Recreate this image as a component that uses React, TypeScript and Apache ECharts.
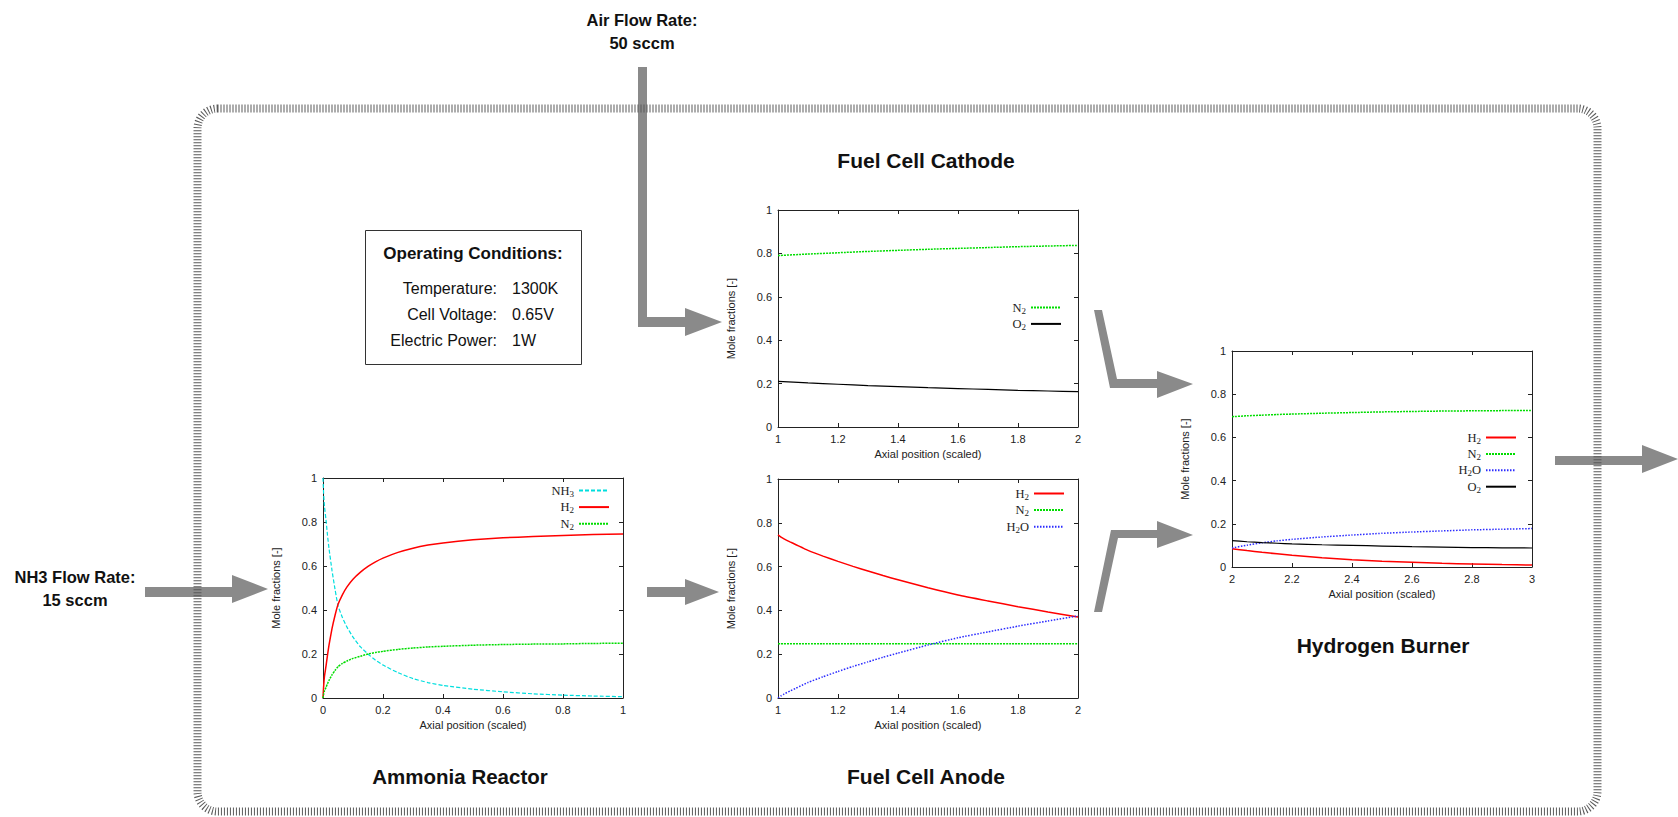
import React, { useEffect, useRef } from 'react';
import * as echarts from 'echarts';

// ---------- Data ----------
// Ammonia reactor
const reactorX = [0, 0.002, 0.005, 0.01, 0.015, 0.02, 0.03, 0.04, 0.05, 0.065, 0.08, 0.1, 0.125, 0.15, 0.175, 0.2, 0.25, 0.3, 0.35, 0.4, 0.5, 0.6, 0.7, 0.8, 0.9, 1.0];
const reactorNH3 = [1.0, 0.93, 0.87, 0.81, 0.74, 0.68, 0.58, 0.495, 0.42, 0.365, 0.322, 0.277, 0.232, 0.2, 0.172, 0.15, 0.115, 0.088, 0.07, 0.057, 0.04, 0.028, 0.019, 0.013, 0.009, 0.006];
const reactorH2 = [0, 0.05, 0.1, 0.145, 0.195, 0.24, 0.315, 0.375, 0.425, 0.47, 0.505, 0.54, 0.572, 0.598, 0.619, 0.636, 0.662, 0.681, 0.695, 0.705, 0.719, 0.728, 0.734, 0.739, 0.743, 0.746];
const reactorN2 = [0, 0.017, 0.033, 0.048, 0.065, 0.08, 0.105, 0.125, 0.142, 0.157, 0.168, 0.18, 0.19, 0.2, 0.207, 0.212, 0.221, 0.227, 0.232, 0.235, 0.24, 0.243, 0.245, 0.246, 0.248, 0.249];

// Fuel cell anode
const anodeX = [1, 1.01, 1.02, 1.04, 1.06, 1.08, 1.1, 1.15, 1.2, 1.25, 1.3, 1.35, 1.4, 1.5, 1.6, 1.7, 1.8, 1.9, 2];
const anodeH2 = [0.745, 0.735, 0.727, 0.713, 0.7, 0.687, 0.674, 0.648, 0.624, 0.601, 0.58, 0.559, 0.54, 0.503, 0.47, 0.443, 0.417, 0.393, 0.37];
const anodeN2 = [0.248, 0.248, 0.248, 0.248, 0.248, 0.248, 0.248, 0.248, 0.248, 0.248, 0.248, 0.248, 0.248, 0.248, 0.248, 0.248, 0.248, 0.248, 0.248];
const anodeH2O = [0, 0.01, 0.018, 0.032, 0.045, 0.058, 0.071, 0.097, 0.121, 0.144, 0.165, 0.186, 0.205, 0.242, 0.275, 0.302, 0.328, 0.352, 0.375];

// Fuel cell cathode
const cathodeX = [1, 1.1, 1.2, 1.3, 1.4, 1.5, 1.6, 1.7, 1.8, 1.9, 2];
const cathodeN2 = [0.79, 0.797, 0.803, 0.809, 0.814, 0.819, 0.823, 0.827, 0.831, 0.834, 0.837];
const cathodeO2 = [0.21, 0.203, 0.197, 0.191, 0.186, 0.181, 0.177, 0.173, 0.169, 0.166, 0.163];

// Hydrogen burner
const burnerX = [2, 2.05, 2.1, 2.15, 2.2, 2.3, 2.4, 2.5, 2.6, 2.7, 2.8, 2.9, 3];
const burnerH2 = [0.085, 0.076, 0.068, 0.061, 0.054, 0.043, 0.034, 0.027, 0.022, 0.017, 0.014, 0.011, 0.009];
const burnerN2 = [0.696, 0.7, 0.703, 0.706, 0.708, 0.712, 0.715, 0.718, 0.72, 0.722, 0.723, 0.724, 0.725];
const burnerH2O = [0.088, 0.101, 0.112, 0.121, 0.128, 0.139, 0.148, 0.156, 0.162, 0.167, 0.172, 0.175, 0.178];
const burnerO2 = [0.122, 0.117, 0.113, 0.11, 0.107, 0.103, 0.1, 0.097, 0.094, 0.092, 0.09, 0.089, 0.088];

// Names / labels
const NAME_NH3 = 'NH3';
const NAME_H2 = 'H2';
const NAME_N2 = 'N2';
const NAME_H2O = 'H2O';
const NAME_O2 = 'O2';
const X_NAME = 'Axial position (scaled)';
const Y_NAME = 'Mole fractions [-]';
const conditionLabels = ['Temperature:', 'Cell Voltage:', 'Electric Power:'];
const conditionValues = ['1300K', '0.65V', '1W'];

// ---------- Styles ----------
const SANS = "'Liberation Sans', Arial, Helvetica, sans-serif";
const SERIF = "'Liberation Serif', 'DejaVu Serif', 'Times New Roman', serif";
const AXIS_COLOR = '#222';
const ARROW = '#8a8a8a';

const LINE_STYLES: Record<string, any> = {
  [NAME_NH3]: { color: '#00dede', type: [4, 2], width: 1.2 },
  [NAME_H2]: { color: '#ff0000', type: 'solid', width: 1.5 },
  [NAME_N2]: { color: '#00dd00', type: [2, 1], width: 1.5 },
  [NAME_H2O]: { color: '#2b2bff', type: [1.5, 1.5], width: 1.5 },
  [NAME_O2]: { color: '#000000', type: 'solid', width: 1.2 },
};

const GRIDS = [
  { left: 323, top: 478, width: 300, height: 220, xMin: 0, xMax: 1 }, // reactor
  { left: 778, top: 479, width: 300, height: 219, xMin: 1, xMax: 2 }, // anode
  { left: 778, top: 210, width: 300, height: 217, xMin: 1, xMax: 2 }, // cathode
  { left: 1232, top: 351, width: 300, height: 216, xMin: 2, xMax: 3 }, // burner
];

function makeSeries(name: string, xs: number[], ys: number[], g: number) {
  const ls = LINE_STYLES[name];
  return {
    type: 'line',
    name,
    xAxisIndex: 2 * g,
    yAxisIndex: 2 * g,
    data: xs.map((x, i) => [x, ys[i]]),
    symbol: 'none',
    smooth: 0.15,
    lineStyle: { color: ls.color, type: ls.type, width: ls.width },
    itemStyle: { color: ls.color },
    emphasis: { disabled: true },
    silent: true,
  };
}

function buildOption() {
  const xAxis: any[] = [];
  const yAxis: any[] = [];
  const line = { show: true, onZero: false, lineStyle: { color: AXIS_COLOR, width: 1 } };
  const tick = { show: true, inside: true, length: 4, lineStyle: { color: AXIS_COLOR, width: 1 } };
  GRIDS.forEach((g, i) => {
    xAxis.push({
      gridIndex: i, type: 'value', position: 'bottom', min: g.xMin, max: g.xMax, interval: 0.2,
      axisLine: line, axisTick: tick, splitLine: { show: false },
      axisLabel: { fontSize: 11, color: AXIS_COLOR, margin: 6, fontFamily: SANS },
      name: X_NAME, nameLocation: 'middle', nameGap: 21,
      nameTextStyle: { fontSize: 11, color: AXIS_COLOR, fontFamily: SANS },
    });
    xAxis.push({
      gridIndex: i, type: 'value', position: 'top', min: g.xMin, max: g.xMax, interval: 0.2,
      axisLine: line, axisTick: tick, splitLine: { show: false }, axisLabel: { show: false },
    });
    yAxis.push({
      gridIndex: i, type: 'value', position: 'left', min: 0, max: 1, interval: 0.2,
      axisLine: line, axisTick: tick, splitLine: { show: false },
      axisLabel: { fontSize: 11, color: AXIS_COLOR, margin: 6, fontFamily: SANS },
      name: Y_NAME, nameLocation: 'middle', nameGap: 42, nameRotate: 90,
      nameTextStyle: { fontSize: 11, color: AXIS_COLOR, fontFamily: SANS },
    });
    yAxis.push({
      gridIndex: i, type: 'value', position: 'right', min: 0, max: 1, interval: 0.2,
      axisLine: line, axisTick: tick, splitLine: { show: false }, axisLabel: { show: false },
    });
  });

  const series = [
    makeSeries(NAME_NH3, reactorX, reactorNH3, 0),
    makeSeries(NAME_H2, reactorX, reactorH2, 0),
    makeSeries(NAME_N2, reactorX, reactorN2, 0),
    makeSeries(NAME_H2, anodeX, anodeH2, 1),
    makeSeries(NAME_N2, anodeX, anodeN2, 1),
    makeSeries(NAME_H2O, anodeX, anodeH2O, 1),
    makeSeries(NAME_N2, cathodeX, cathodeN2, 2),
    makeSeries(NAME_O2, cathodeX, cathodeO2, 2),
    makeSeries(NAME_H2, burnerX, burnerH2, 3),
    makeSeries(NAME_N2, burnerX, burnerN2, 3),
    makeSeries(NAME_H2O, burnerX, burnerH2O, 3),
    makeSeries(NAME_O2, burnerX, burnerO2, 3),
  ];

  const legendBase = {
    orient: 'vertical', align: 'right', itemWidth: 30, itemHeight: 10, padding: 0,
    selectedMode: false,
    itemStyle: { opacity: 0, borderWidth: 0 },
    formatter: (name: string) => name.replace(/(\d)/g, '{s|$1}'),
    textStyle: {
      fontFamily: SERIF, fontSize: 12.5, color: AXIS_COLOR,
      rich: { s: { fontFamily: SERIF, fontSize: 9, color: AXIS_COLOR, padding: [6, 0, 0, 0] } },
    },
  };
  const legend = [
    { ...legendBase, data: [NAME_NH3, NAME_H2, NAME_N2], right: 1068, top: 484, itemGap: 2.6 },
    { ...legendBase, data: [NAME_H2, NAME_N2, NAME_H2O], right: 613, top: 487, itemGap: 2.6 },
    { ...legendBase, data: [NAME_N2, NAME_O2], right: 616, top: 301, itemGap: 2.4 },
    { ...legendBase, data: [NAME_H2, NAME_N2, NAME_H2O, NAME_O2], right: 161, top: 431, itemGap: 2.4 },
  ];

  const poly = (points: number[][]) => ({
    type: 'polygon', z: 1, silent: true,
    shape: { points }, style: { fill: ARROW, stroke: null },
  });
  const txt = (text: string, x: number, y: number, size: number, bold: boolean, align = 'center') => ({
    type: 'text', z: 5, silent: true,
    style: {
      text, x, y, fill: '#111',
      fontSize: size, fontWeight: bold ? 'bold' : 'normal', fontFamily: SANS,
      textAlign: align, textVerticalAlign: 'middle', align, verticalAlign: 'middle',
    },
  });

  const graphic = [
    // arrows
    poly([[145, 587], [232, 587], [232, 575], [268, 589], [232, 603], [232, 597], [145, 597]]),
    poly([[647, 587], [685, 587], [685, 579], [719, 592], [685, 605], [685, 597], [647, 597]]),
    poly([[638, 67], [647, 67], [647, 317], [685, 317], [685, 308], [722, 322], [685, 336], [685, 327], [638, 327]]),
    poly([[1094, 310], [1102, 310], [1117, 379], [1157, 379], [1157, 371], [1193, 384], [1157, 398], [1157, 388], [1110, 388]]),
    poly([[1094, 612], [1111, 530], [1157, 530], [1157, 521], [1193, 535], [1157, 548], [1157, 538], [1118, 538], [1102, 612]]),
    poly([[1555, 456], [1642, 456], [1642, 445], [1678, 459], [1642, 473], [1642, 465], [1555, 465]]),
    // system border
    {
      type: 'rect', z: 3, silent: true,
      shape: { x: 197.5, y: 108.5, width: 1400, height: 703, r: 20 },
      style: { fill: null, stroke: '#5a5a5a', lineWidth: 8, lineDash: [1, 2] },
    },
    // operating conditions box
    {
      type: 'rect', z: 4, silent: true,
      shape: { x: 365.5, y: 230.5, width: 216, height: 134 },
      style: { fill: '#fff', stroke: '#333', lineWidth: 1 },
    },
    txt('Operating Conditions:', 473, 253, 17, true),
    ...conditionLabels.map((t, i) => txt(t, 497, [288, 314, 340][i], 16, false, 'right')),
    ...conditionValues.map((t, i) => txt(t, 512, [288, 314, 340][i], 16, false, 'left')),
    // flow labels
    txt('Air Flow Rate:', 642, 20, 16.5, true),
    txt('50 sccm', 642, 43, 16.5, true),
    txt('NH3 Flow Rate:', 75, 577, 16.5, true),
    txt('15 sccm', 75, 600, 16.5, true),
    // unit titles
    txt('Fuel Cell Cathode', 926, 160, 21, true),
    txt('Ammonia Reactor', 460, 776, 20.5, true),
    txt('Fuel Cell Anode', 926, 776, 21, true),
    txt('Hydrogen Burner', 1383, 645, 21, true),
  ];

  return {
    animation: false,
    backgroundColor: '#fff',
    textStyle: { fontFamily: SANS },
    grid: GRIDS.map((g) => ({ left: g.left, top: g.top, width: g.width, height: g.height, containLabel: false })),
    xAxis,
    yAxis,
    legend,
    series,
    graphic,
  };
}

export default function App() {
  const ref = useRef<HTMLDivElement>(null);
  useEffect(() => {
    document.body.style.margin = '0';
    document.body.style.overflow = 'hidden';
    if (!ref.current) return;
    const chart = echarts.init(ref.current, undefined, { renderer: 'svg' });
    chart.setOption(buildOption() as any);
    return () => chart.dispose();
  }, []);
  return <div ref={ref} style={{ width: 1678, height: 817, display: 'block' }} />;
}
